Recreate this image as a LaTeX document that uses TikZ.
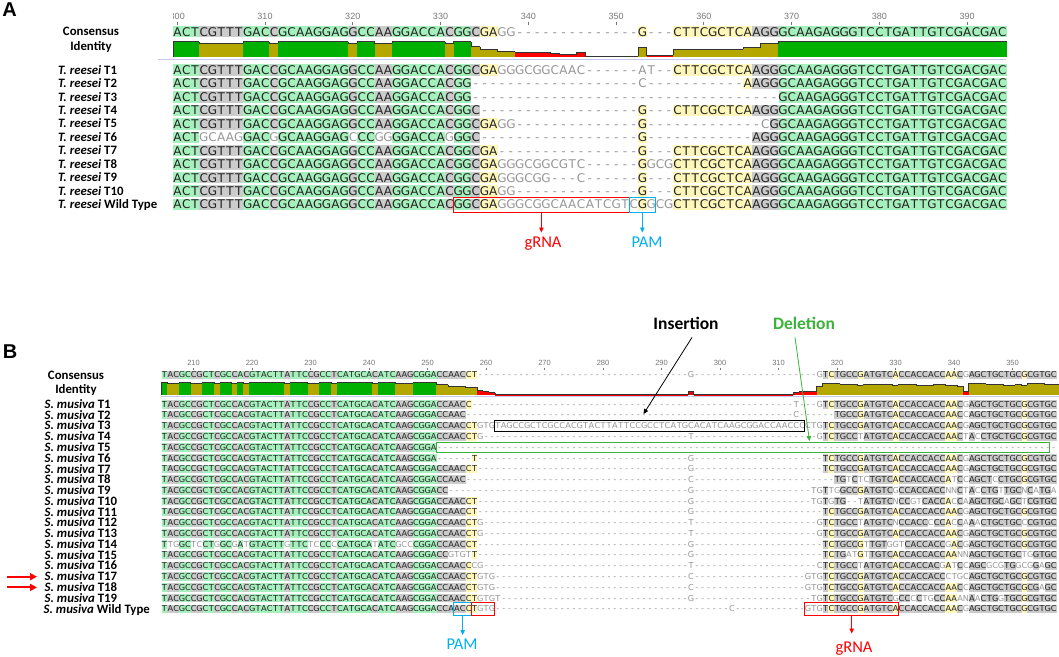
\documentclass[tikz,border=0pt]{standalone}
\usepackage{fontspec}
\setmainfont{Carlito}
\newfontfamily\seqfont{DejaVu Sans}
\newfontfamily\rulfont{Liberation Sans}
\usetikzlibrary{arrows.meta}
\ExplSyntaxOn
\cs_new_eq:NN \Rep \prg_replicate:nn
\ExplSyntaxOff
\definecolor{bgg}{RGB}{165,240,188}
\definecolor{bgs}{RGB}{203,203,203}
\definecolor{bgy}{RGB}{255,247,185}
\definecolor{txd}{RGB}{35,35,35}
\definecolor{txl}{RGB}{150,150,150}
\definecolor{idg}{RGB}{0,176,0}
\definecolor{ido}{RGB}{180,168,0}
\definecolor{idr}{RGB}{255,0,0}
\definecolor{sepc}{RGB}{200,200,240}
\definecolor{rulc}{RGB}{120,120,120}
\definecolor{pamc}{RGB}{0,176,240}
\definecolor{redc}{RGB}{255,0,0}
\definecolor{delc}{RGB}{60,178,60}
% ---------- sequence machinery ----------
\newdimen\cw \newdimen\bgh \newdimen\bgd
\def\popc#1#2\relax{\def\hA{#1}\def\tA{#2}}
\def\popsafe#1{\ifx#1\empty\def\hA{n}\def\tA{}\else\expandafter\popc#1\relax\fi}
\def\dashch{-}
\def\clsn{n}
\def\seqrow#1#2{%
  \pgfmathsetmacro\Yb{#1+\Bo}%
  \edef\tR{#2}\let\tC\curcons\let\tQ\curcls
  \node[curseq] at ({\Xo-\Dx/2},\Yb) {\rowloop};}
\def\rowloop{\ifx\tR\empty\let\next\relax\else\let\next\rowstep\fi\next}
\def\rowstep{%
  \popsafe\tR\let\hR\hA\let\tR\tA
  \popsafe\tC\let\hC\hA\let\tC\tA
  \popsafe\tQ\let\hQ\hA\let\tQ\tA
  \drawcell
  \rowloop}
\def\drawcell{%
  \ifx\hR\dashch\def\cellkind{0}\else
    \ifx\hQ\clsn\def\cellkind{1}\else
      \ifx\hR\hC\def\cellkind{2}\else\def\cellkind{1}\fi
    \fi
  \fi
  \ifcase\cellkind\relax\let\next\drawdash\or\let\next\drawgray\or\let\next\drawmatch\fi
  \next}
\def\drawdash{\hbox to\cw{\hss\textcolor{txl}{-}\hss}}
\def\drawgray{\hbox to\cw{\hss\textcolor{txl}{\hR}\hss}}
\def\drawmatch{\edef\curbg{bg\hQ}%
  \rlap{\textcolor{\curbg}{\vrule width\cw height\bgh depth\bgd}}%
  \hbox to\cw{\hss\textcolor{txd}{\hR}\hss}}
\newcommand\idbar[4]{%
  \gdef\prevtop{#3}%
  \foreach \a/\b/\t/\c in {#4} {
    \fill[\c] ({#1+(\a-0.5)*#2},\t) rectangle ({#1+(\b+0.5)*#2},#3);
    \draw[idline] ({#1+(\a-0.5)*#2},\prevtop) -- ({#1+(\a-0.5)*#2},\t) -- ({#1+(\b+0.5)*#2},\t);
    \xdef\prevtop{\t}
  }}
% ---------- data: panel A ----------
\def\PAa{ACTCGTTTGACCGCAAGGAGGCCAAGGACCACGGCGA}
\def\TAa{CTTCGCTCAAGGGCAAGAGGGTCCTGATTGTCGACGAC}
\def\TAb{GCAAGAGGGTCCTGATTGTCGACGAC}
% ---------- data: panel B ----------
\def\LB{TACGCCGCTCGCCACGTACTTATTCCGCCTCATGCACATCAAGCGGACCAACCT}
\def\LBe{TACGCCGCTCGCCACGTACTTATTCCGCCTCATGCACATCAAGCGGACCAACC}
\def\LBd{TACGCCGCTCGCCACGTACTTATTCCGCCTCATGCACATCAAGCGGACCAAC}
\def\LBc{TACGCCGCTCGCCACGTACTTATTCCGCCTCATGCACATCAAGCGGACC}
\def\LBa{TACGCCGCTCGCCACGTACTTATTCCGCCTCATGCACATCAAGCGGA}
\def\RB{GTCTGCCGATGTCACCACCACCAACGAGCTGCTGCGCGTGC}
\def\RBa{TCTGCCGATGTCACCACCACCAACGAGCTGCTGCGCGTGC}
\begin{document}
\begin{tikzpicture}[x=1pt,y=-1pt,
  seqa/.style={font=\seqfont\fontsize{12}{12}\selectfont,inner sep=0pt,anchor=base west},
  seqb/.style={font=\seqfont\fontsize{8.2}{8.2}\selectfont,inner sep=0pt,anchor=base west},
  lab/.style={font=\fontsize{12.8}{14}\selectfont\bfseries,inner sep=0pt,anchor=base west},
  labc/.style={font=\fontsize{12.8}{14}\selectfont\bfseries,inner sep=0pt,anchor=base},
  panel/.style={font=\rulfont\fontsize{20}{20}\selectfont\bfseries,inner sep=0pt},
  rula/.style={font=\rulfont\fontsize{9}{9}\selectfont,text=rulc,inner sep=0pt},
  rulb/.style={font=\rulfont\fontsize{7.5}{7.5}\selectfont,text=rulc,inner sep=0pt},
  idline/.style={draw=black!80,line width=0.6pt},
  sep/.style={draw=sepc,line width=0.8pt},
  annot/.style={font=\fontsize{16.5}{18}\selectfont,inner xsep=0pt,anchor=north},
  bigl/.style={font=\fontsize{17.5}{19}\selectfont\bfseries,inner sep=0pt},
  boxr/.style={draw=redc,line width=1.1pt,inner sep=0pt},
  boxc/.style={draw=pamc,line width=1.1pt,inner sep=0pt},
  arr/.style={line width=0.8pt,-{Triangle[length=5pt,width=4.5pt]}},
  curseq/.style={seqa}]
\useasboundingbox (0,0) rectangle (1059,656);
\fill[white] (0,0) rectangle (1059,656);
% =================== PANEL A ===================
\node[panel] (pA) at (9.5,10) {A};
\def\Xo{177.25}\def\Dx{8.775}\def\Bo{4.4}
\cw=8.775pt \bgh=10.15pt \bgd=1.35pt
\begin{scope}
\clip (173.5,0) rectangle (1059,30);
\foreach \v in {300,310,...,390} {
  \node[rula] (ra\v) at ({177.25+(\v-300)*8.775},16.7) {\v};
  \draw[rulc,line width=0.6pt] ({177.25+(\v-300)*8.775},21.8) -- ({177.25+(\v-300)*8.775},24.5);
}
\end{scope}
\edef\curcons{\PAa GG\Rep{14}{-}G---\TAa}
\edef\curcls{gggsssssgggsggggggggsggssggggggsggsyy\Rep{16}{n}ynnn\Rep{9}{y}sss\Rep{26}{g}}
\tikzset{curseq/.style={seqa}}
\node[labc] (consA) at (91,35.8) {Consensus};
\node[labc] (identA) at (91,50.8) {Identity};
\seqrow{31.7}{\curcons}
\idbar{177.25}{8.775}{56.7}{0/2/41.7/idg,3/7/42.8/ido,8/10/41.7/idg,11/11/42.8/ido,12/19/41.7/idg,20/20/42.8/ido,21/22/41.7/idg,23/24/42.8/ido,25/30/41.7/idg,31/31/42.8/ido,32/33/41.7/idg,34/34/46.7/ido,35/36/49.3/ido,37/38/51.7/ido,39/42/52.3/idr,43/43/53.3/idr,44/45/54.3/idr,46/46/52.3/idr,47/52/56.4/idr,53/53/47.7/ido,54/56/55/idr,57/64/49/ido,65/66/47.7/ido,67/68/43.5/ido,69/94/41.7/idg}
\draw[sep] (158,59.5) -- (1006,59.5);
\foreach \k in {1,...,10} {
  \node[lab] (la\k) at (58,{70+13.45*(\k-1)+4.1}) {\textit{T. reesei} T\k};
}
\node[lab] (laWT) at (58,208.6) {\textit{T. reesei} Wild Type};
\seqrow{70}{\PAa GGGCGGCAAC------AT--\TAa}
\seqrow{83.45}{ACTCGTTTGACCGCAAGGAGGCCAAGGACCACGG\Rep{19}{-}C\Rep{11}{-}AAGG\TAb}
\seqrow{96.9}{ACTCGTTTGACCGCAAGGAGGCCAAGGACCACGG\Rep{35}{-}\TAb}
\seqrow{110.35}{ACTCGTTTGACCGCAAGGAGGCCAAGGACCACGGC\Rep{18}{-}G---\TAa}
\seqrow{123.8}{\PAa GG\Rep{14}{-}G\Rep{13}{-}CG\TAb}
\seqrow{137.25}{ACTGCAAGGACGGCAAGGAGCCCGGGGACCAGGGC\Rep{18}{-}G\Rep{12}{-}AGG\TAb}
\seqrow{150.7}{\PAa\Rep{16}{-}G---\TAa}
\seqrow{164.15}{\PAa GGGCGGCGTC------GGCG\TAa}
\seqrow{177.6}{\PAa GGGCGG---C------G---\TAa}
\seqrow{191.05}{\PAa GG\Rep{14}{-}G---\TAa}
\seqrow{204.5}{ACTCGTTTGACCGCAAGGAGGCCAAGGACCACGGCGAGGGCGGCAACATCGTCGGCGCTTCGCTCAAGGGCAAGAGGGTCCTGATTGTCGACGAC}
% annotations A
\node[boxr,minimum width=175.5pt,minimum height=14.5pt] (gbA) at (541.4,205) {};
\node[boxc,minimum width=26.3pt,minimum height=14.5pt] (pbA) at (642.3,205) {};
\node[annot,text=redc,inner ysep=4pt] (glA) at (543,232.5) {gRNA};
\node[annot,text=pamc,inner ysep=4pt] (plA) at (647,232.5) {PAM};
\draw[arr,redc] (gbA.south) -- (gbA.south |- glA.north);
\draw[arr,pamc] (pbA.south) -- (pbA.south |- plA.north);
% =================== PANEL B ===================
\node[panel] (pB) at (10,351.5) {B};
\def\Xo{164.3}\def\Dx{5.85}\def\Bo{2.9}
\cw=5.85pt \bgh=7.1pt \bgd=1.3pt
\foreach \v in {210,220,...,350} {
  \node[rulb] (rb\v) at ({164.3+(\v-205)*5.85},363) {\v};
  \draw[rulc,line width=0.5pt] ({164.3+(\v-205)*5.85},367.5) -- ({164.3+(\v-205)*5.85},369.8);
}
\edef\curcons{\LB\Rep{36}{-}G\Rep{21}{-}\RB}
\edef\curcls{gssggssggsggsgsggggggsgggssggsggggggsgggsssgggg\Rep{5}{s}yy\Rep{59}{n}sy\Rep{4}{s}y\Rep{5}{s}y\Rep{8}{s}yysn\Rep{9}{s}y\Rep{5}{s}}
\tikzset{curseq/.style={seqb}}
\node[labc] (consB) at (76,379) {Consensus};
\node[labc] (identB) at (76,393.5) {Identity};
\seqrow{375}{\curcons}
\idbar{164.3}{5.85}{395}{0/0/382/idg,1/2/382.8/ido,3/4/382/idg,5/6/382.8/ido,7/8/382/idg,9/9/382.8/ido,10/11/382/idg,12/12/382.8/ido,13/13/382/idg,14/14/382.8/ido,15/20/382/idg,21/21/382.8/ido,22/24/382/idg,25/26/382.8/ido,27/28/382/idg,29/29/382.8/ido,30/35/382/idg,36/36/382.8/ido,37/39/382/idg,40/42/382.8/ido,43/46/382/idg,47/48/384.5/ido,49/51/386/ido,52/53/386.8/ido,54/54/390.5/idr,55/55/391.5/idr,56/56/392.5/idr,57/89/394.7/idr,90/90/391.5/idr,91/107/394.7/idr,108/108/392/idr,109/111/390.8/idr,112/112/386.5/ido,113/115/383.5/ido,116/118/384.2/ido,119/119/385.2/ido,120/124/383.8/ido,125/125/385/ido,126/128/384.2/ido,129/131/384.8/ido,132/133/384/ido,134/135/385.4/ido,136/136/385.8/ido,137/137/391/idr,138/140/383.6/ido,141/143/384.3/ido,144/145/384.9/ido,146/146/384/ido,147/147/385.2/ido,148/150/383.6/ido,151/153/384.3/ido}
\draw[sep] (161,396.3) -- (1059,396.3);
\foreach \k in {1,...,19} {
  \node[lab] (lb\k) at (44.5,{404.3+10.77*(\k-1)+4.1}) {\textit{S. musiva} T\k};
}
\node[lab] (lbWT) at (43.5,613) {\textit{S. musiva} Wild Type};
\seqrow{404.3}{\LBe\Rep{55}{-}T---\RB}
\seqrow{415.07}{\LBd\Rep{56}{-}C\Rep{6}{-}TGCCGATGTCACCACCACCAACCAGCTGCTGCGCGTGC}
\seqrow{425.84}{\LB GTGTAGCCGCTCGCCACGTACTTATTCCGCCTCATGCACATCAAGCGGACCAACCCCT\RB}
\seqrow{436.61}{\LB G\Rep{35}{-}T\Rep{21}{-}GTCTGCCTATGTCACCACCACCAACTACCTGCTGCGCGTGC}
\seqrow{447.38}{\LBa\Rep{106}{-}}
\seqrow{458.15}{\LBa------T\Rep{36}{-}G\Rep{22}{-}\RBa}
\seqrow{468.92}{\LB\Rep{36}{-}G\Rep{22}{-}\RBa}
\seqrow{479.69}{\LBd\Rep{38}{-}C\Rep{24}{-}TGTCTCTGTCACCACCACCATCCAGCTCCTGCGCGTGC}
\seqrow{490.46}{\LBc\Rep{41}{-}G\Rep{20}{-}TGTTGGCCGATGTCGCCACCACCNNCTACCTGTTGCNCATGA}
\seqrow{501.23}{\LB\Rep{36}{-}G\Rep{20}{-}TGTGTG--TATGTCNCCGTCACCACCAAGCTGCAGCTCGTGC}
\seqrow{512}{\LB\Rep{36}{-}G\Rep{22}{-}\RBa}
\seqrow{522.77}{\LB G\Rep{35}{-}T\Rep{21}{-}GTCTGCCTATGTCNCCACCCCCACCAAACTGCTGCCCGTGC}
\seqrow{533.54}{\LB G\Rep{35}{-}T\Rep{21}{-}\RB}
\seqrow{544.31}{TTGGCTCCTGGCGATGTACTTGTTCTCCCCCATGCATATCGCCCGGACCAACCT\Rep{36}{-}G\Rep{22}{-}TCTGCCGTTGTGGTCACCACCGACGAGCTGCTGCGCGTGC}
\seqrow{555.08}{\LBc GTGTT\Rep{36}{-}G\Rep{22}{-}TCTGATGTTGTCACCACCACCAANNAGCTGCTGCTGGTGC}
\seqrow{565.85}{\LBe CG\Rep{35}{-}T\Rep{21}{-}CTCTGCCTATGTCACCACCACGATCCAGCGCGTGGCGGAGC}
\seqrow{576.62}{\LB GTG\Rep{33}{-}C\Rep{19}{-}GTGTCTGCCGATGTCACCACCACCCTGCAGCTGCTGCGCGTGC}
\seqrow{587.39}{\LB GTG\Rep{33}{-}C\Rep{19}{-}GTGTCTGCCGATGTCACCACCACCAACCAGCTGCTGCGCGAGC}
\seqrow{598.16}{\LB GTGT\Rep{32}{-}G\Rep{20}{-}TGTCTGCCGATGTCGCCCCTGCCAAANAACTGGTGCGCGTGC}
\seqrow{608.93}{\LB GTG\Rep{40}{-}C\Rep{12}{-}GTGTCTGCCGATGTCACCACCACCAACGAGCTGCTGCGCGTGC}
% annotations B
\node[draw=black,line width=1pt,inner sep=0pt,minimum width=310.1pt,minimum height=10.5pt] (insB) at (649.85,425.8) {};
\node[draw=delc,line width=1pt,inner sep=0pt,minimum width=613.4pt,minimum height=10pt] (delB) at (743,447.4) {};
\node[bigl] (insL) at (686,323) {Insertion};
\node[bigl,text=delc] (delL) at (804,323) {Deletion};
\coordinate (insTip) at (643.5,414);
\coordinate (delTip) at (809.5,441);
\draw[arr,black] ([xshift=6pt,yshift=-8pt]insL.south) -- (insTip);
\draw[arr,delc] ([xshift=-9pt,yshift=-8pt]delL.south) -- (delTip);
\node[boxc,minimum width=17.55pt,minimum height=13pt] (pbB) at (462.65,609.3) {};
\node[boxr,minimum width=23.4pt,minimum height=13pt] (gbB1) at (483.1,609.3) {};
\node[boxr,minimum width=93.6pt,minimum height=13pt] (gbB2) at (851.7,609.3) {};
\node[annot,text=pamc,inner ysep=3.3pt] (plB) at (462,635) {PAM};
\node[annot,text=redc,inner ysep=8pt] (glB) at (854,633.5) {gRNA};
\draw[arr,pamc] (pbB.south) -- (pbB.south |- plB.north);
\draw[arr,redc] (gbB2.south) -- (gbB2.south |- glB.north);
\coordinate (a17s) at (7,576.7);
\coordinate (a17e) at (37,576.7);
\coordinate (a18s) at (7,587.4);
\coordinate (a18e) at (37,587.4);
\draw[redc,line width=2pt,-{Triangle[length=7pt,width=7pt]}] (a17s) -- (a17e);
\draw[redc,line width=2pt,-{Triangle[length=7pt,width=7pt]}] (a18s) -- (a18e);
\end{tikzpicture}
\end{document}
